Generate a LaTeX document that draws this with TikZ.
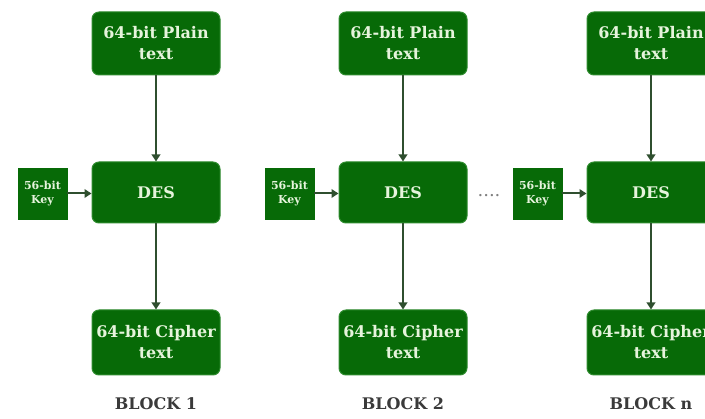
\documentclass[tikz,border=0pt]{standalone}
\usepackage{fontspec}
\setmainfont{DejaVu Serif}
\usetikzlibrary{arrows.meta}
\definecolor{boxfill}{HTML}{076A07}
\definecolor{boxedge}{HTML}{2E8B2E}
\definecolor{boxtext}{HTML}{E6F4DC}
\definecolor{arrowcol}{HTML}{2F4F2F}
\definecolor{labelcol}{HTML}{3A3A3A}
\tikzset{
  mainbox/.style={draw=boxedge, line width=1pt, fill=boxfill, rounded corners=7pt,
    minimum width=128pt, minimum height=63pt, align=center, text=boxtext,
    font=\fontsize{16}{21}\selectfont\bfseries, inner sep=0pt},
  keybox/.style={draw=boxfill, fill=boxfill, minimum width=49pt, minimum height=51pt,
    align=center, text=boxtext, font=\fontsize{11}{13.5}\selectfont\bfseries, inner sep=0pt},
  blocklabel/.style={text=labelcol, font=\fontsize{16}{18}\selectfont\bfseries},
  conn/.style={draw=arrowcol, line width=2pt, -{Triangle[length=7pt,width=8.5pt]}},
  dots/.style={text=gray, font=\fontsize{18}{20}\selectfont}
}
\begin{document}
\begin{tikzpicture}[x=1pt,y=1pt]
\useasboundingbox (0,0) rectangle (705,-419);
\clip (0,0) rectangle (705,-419);
\foreach \i/\cx/\lab in {1/156/1, 2/403/2, 3/651/n} {
  \node[mainbox] (p\i) at (\cx,-43.5) {64-bit Plain\\text};
  \node[mainbox, minimum height=61pt] (d\i) at (\cx,-192.5) {DES};
  \node[mainbox, minimum height=65pt] (c\i) at (\cx,-342.5) {64-bit Cipher\\text};
  \node[keybox] (k\i) at (\cx-113.5,-193.5) {56-bit\\Key};
  \node[blocklabel] (b\i) at (\cx,-404) {BLOCK \lab};
  \draw[conn] (p\i) -- (d\i);
  \draw[conn] (d\i) -- (c\i);
  \draw[conn] (k\i.east) -- (d\i.west |- k\i.east);
}
\node[dots] (dd) at (489,-196) {....};
\end{tikzpicture}
\end{document}
